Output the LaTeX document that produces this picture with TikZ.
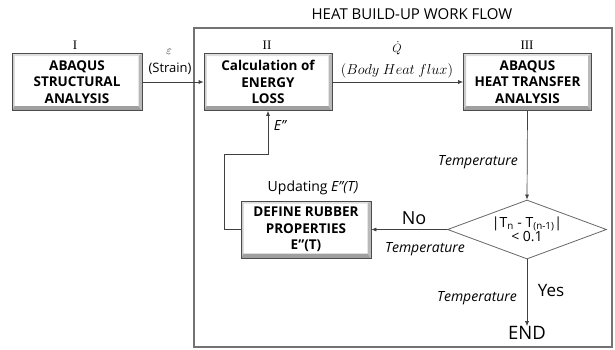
\documentclass[tikz,border=0pt]{standalone}
\usepackage{fontspec}
\setmainfont{Open Sans}
\newfontfamily\romanfont{Liberation Serif}
\usetikzlibrary{shapes.geometric,arrows.meta}
\tikzset{
  x=1pt, y=-1pt,
  bevel/.style={rectangle, minimum width=128pt, minimum height=57pt, inner sep=0pt,
    draw=black!70, line width=0.7pt, align=center,
    font=\bfseries\fontsize{13.5}{16.5}\selectfont,
    path picture={
      \coordinate (pnw) at (path picture bounding box.north west);
      \coordinate (pne) at (path picture bounding box.north east);
      \coordinate (psw) at (path picture bounding box.south west);
      \coordinate (pse) at (path picture bounding box.south east);
      \fill[gray!25] (pnw) -- (pne) -- ([shift={(-3.5pt,-2.5pt)}]pne) -- ([shift={(2.5pt,-2.5pt)}]pnw) -- cycle;
      \fill[gray!40] (pnw) -- (psw) -- ([shift={(2.5pt,4.5pt)}]psw) -- ([shift={(2.5pt,-2.5pt)}]pnw) -- cycle;
      \fill[gray!75] (psw) -- (pse) -- ([shift={(-3.5pt,4.5pt)}]pse) -- ([shift={(2.5pt,4.5pt)}]psw) -- cycle;
      \fill[gray!55] (pne) -- (pse) -- ([shift={(-3.5pt,4.5pt)}]pse) -- ([shift={(-3.5pt,-2.5pt)}]pne) -- cycle;
    }},
  arr/.style={draw=black!75, line width=0.7pt, -{Latex[length=5pt,width=4pt]}},
  lbl/.style={inner sep=0pt, font=\fontsize{12}{14}\selectfont},
  templbl/.style={inner sep=0pt, font=\itshape\fontsize{14}{16}\selectfont},
  num/.style={inner sep=0pt, font=\romanfont\fontsize{13}{15}\selectfont},
}
\begin{document}
\begin{tikzpicture}
\useasboundingbox (0,0) rectangle (615,349);
% outer frame
\draw[black!55, line width=1.2pt] (194,28) rectangle (612,347);
\node[inner sep=0pt, font=\fontsize{15}{17}\selectfont] (title) at (412,14) {HEAT BUILD-UP WORK FLOW};

% boxes
\node[bevel, minimum width=130pt] (b1) at (77,82) {ABAQUS\\STRUCTURAL\\ANALYSIS};
\node[bevel] (b2) at (268,82) {Calculation of\\ENERGY\\LOSS};
\node[bevel] (b3) at (527.5,82) {ABAQUS\\HEAT TRANSFER\\ANALYSIS};
\node[bevel, minimum width=130pt] (def) at (306,229.5) {DEFINE RUBBER\\PROPERTIES\\E"(T)};

\node[num] (n1) at (75,45) {I};
\node[num] (n2) at (267,45) {II};
\node[num] (n3) at (527,45) {III};

% decision
\node[diamond, draw=black!60, line width=0.8pt, minimum width=159pt, minimum height=59pt, aspect=2.7, inner sep=0pt, align=center, font=\fontsize{14}{16}\selectfont] (dia) at (527,229.5) {|T\textsubscript{n} - T\textsubscript{(n-1)}|\\[-2pt]< 0.1};
\node[inner sep=0pt, font=\fontsize{18.5}{20}\selectfont] (end) at (527,333) {END};

% connectors
\draw[arr] (b1.east) -- (b2.west);
\draw[arr] (b2.east) -- (b3.west);
\draw[arr] (b3.south) -- (dia.north);
\draw[arr] (dia.west) -- (def.east);
\draw[arr] (dia.south) -- (end.north);
\coordinate (fb) at (224,154);
\draw[arr] (def.west) -| (fb) -| (b2.south);

% labels
\node[lbl] (eps) at (169,52) {$\varepsilon$};
\node[lbl, font=\fontsize{13}{15}\selectfont] (strain) at (170,69) {(Strain)};
\node[lbl] (qdot) at (397,48) {$\dot{Q}$};
\node[lbl, font=\fontsize{14}{16}\selectfont] (flux) at (397,71) {$(Body\ Heat\ flux)$};
\node[templbl] (epp) at (280,125) {E"};
\node[templbl] (t1) at (478,162) {Temperature};
\node[lbl, font=\fontsize{14}{16}\selectfont] (upd) at (313,188) {Updating \textit{E"(T)}};
\node[lbl, font=\fontsize{18}{20}\selectfont] (no) at (414,218) {No};
\node[templbl] (t2) at (425,249) {Temperature};
\node[lbl, font=\fontsize{17}{19}\selectfont] (yes) at (551,291) {Yes};
\node[templbl] (t3) at (477,298) {Temperature};
\end{tikzpicture}
\end{document}
